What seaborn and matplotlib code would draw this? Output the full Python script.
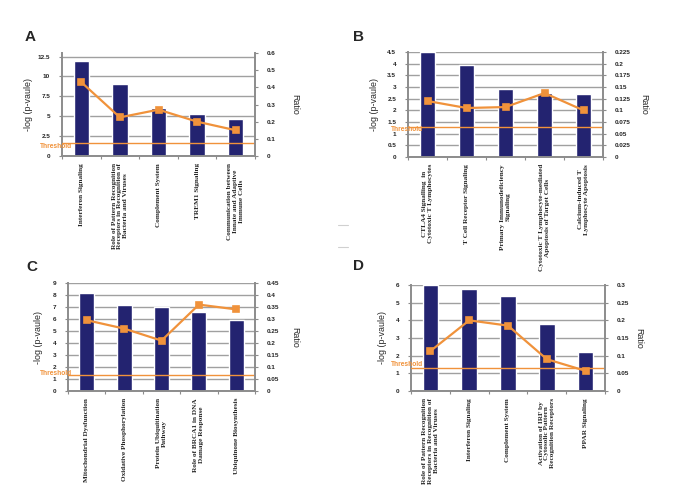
import matplotlib
matplotlib.use("Agg")
import matplotlib.pyplot as plt
import matplotlib.transforms as mtrans
from matplotlib.lines import Line2D
from matplotlib.ticker import FixedLocator
import seaborn as sns
import numpy as np

sns.set_theme(style="white")
plt.rcParams['font.family'] = ['Liberation Sans', 'DejaVu Sans']

# ---------------- data ----------------
cats_a = ["Interferon Signaling",
          "Role of Pattern Recognition\nReceptors in Recognition of\nBacteria and Viruses",
          "Complement System",
          "TREM1 Signaling",
          "Communication between\nInnate and Adaptive\nImmune Cells"]
logp_a = [12.0, 9.0, 6.0, 5.3, 4.6]
ratio_a = [0.43, 0.225, 0.27, 0.20, 0.15]
thr_a = 1.6

cats_b = ["CTLA4 Signalling  in\nCytotoxic T Lymphocytes",
          "T Cell Receptor Signaling",
          "Primary Immunodeficiency\nSignaling",
          "Cytotoxic T Lymphocyte-mediated\nApoptosis of Target Cells",
          "Calcium-induced T\nLymphocyte Apoptosis"]
logp_b = [4.5, 3.95, 2.9, 2.75, 2.7]
ratio_b = [0.12, 0.105, 0.107, 0.137, 0.10]
thr_b = 1.3

cats_c = ["Mitochondrial Dysfunction",
          "Oxidative Phosphorylation",
          "Protein Ubiquitination\nPathway",
          "Role of BRCA1 in DNA\nDamage Response",
          "Ubiquinone Biosynthesis"]
logp_c = [8.2, 7.15, 7.0, 6.6, 5.9]
ratio_c = [0.295, 0.26, 0.21, 0.36, 0.34]
thr_c = 1.3

cats_d = ["Role of Pattern Recognition\nReceptors in Recognition of\nBacteria and Viruses",
          "Interferon Signaling",
          "Complement System",
          "Activation of IRF by\nCytosolic Pattern\nRecognition Receptors",
          "PPAR Signaling"]
logp_d = [6.0, 5.75, 5.4, 3.8, 2.2]
ratio_d = [0.113, 0.20, 0.185, 0.09, 0.057]
thr_d = 1.3

left_ticks_a = [0, 2.5, 5, 7.5, 10, 12.5]
right_ticks_a = [0, 0.1, 0.2, 0.3, 0.4, 0.5, 0.6]
left_ticks_b = [0, 0.5, 1, 1.5, 2, 2.5, 3, 3.5, 4, 4.5]
right_ticks_b = [0, 0.025, 0.05, 0.075, 0.1, 0.125, 0.15, 0.175, 0.2, 0.225]
left_ticks_c = [0, 1, 2, 3, 4, 5, 6, 7, 8, 9]
right_ticks_c = [0, 0.05, 0.1, 0.15, 0.2, 0.25, 0.3, 0.35, 0.4, 0.45]
left_ticks_d = [0, 1, 2, 3, 4, 5, 6]
right_ticks_d = [0, 0.05, 0.1, 0.15, 0.2, 0.25, 0.3]

NAVY = "#232370"
ORANGE = "#f0923b"
GRID = "#a0a0a0"
SPINE = "#8c8c8c"

W, H = 685, 496
fig = plt.figure(figsize=(W / 100, H / 100), dpi=100)
fig.patch.set_facecolor("white")


def px_rect(l, r, t, b):
    return [l / W, 1 - b / H, (r - l) / W, (b - t) / H]


def fmt(v):
    return "%g" % v


def panel(rect, letter, letter_xy, cats, logp, ratio, thr, lt, rt, lmax, rmax,
          thr_off, ylab_off, rlab_off):
    ax = fig.add_axes(rect)
    wpx = rect[2] * W
    sns.barplot(x=cats, y=logp, color=NAVY, width=0.4, saturation=1, ax=ax,
                zorder=2)
    ax.set_xlim(-0.5, len(cats) - 0.5)
    ax.set_ylim(0, lmax)
    ax.set_yticks(lt)
    ax.set_yticklabels([fmt(v) for v in lt], fontsize=4.6, fontweight="bold")
    ax.yaxis.grid(True, color=GRID, lw=1.0, zorder=0)
    ax.xaxis.grid(False)
    ax.set_axisbelow(True)
    ax.axhline(thr, color=ORANGE, lw=1.0, zorder=5)

    ax2 = ax.twinx()
    sns.pointplot(x=cats, y=ratio, ax=ax2, color=ORANGE, markers="s",
                  markersize=4.5, linewidth=1.6, zorder=6)
    ax2.set_ylim(0, rmax)
    ax2.set_yticks(rt)
    ax2.set_yticklabels([fmt(v) for v in rt], fontsize=4.6, fontweight="bold")
    ax2.set_xlabel("")
    ax2.set_xlim(-0.5, len(cats) - 0.5)

    ax.set_xticks(range(len(cats)))
    ax.set_xticklabels(cats, rotation=90, ha="center", va="top",
                       multialignment="center", fontsize=5.2,
                       fontweight="bold", family=["Liberation Serif"])
    ax.tick_params(axis="x", which="major", length=0, pad=5)
    ax.xaxis.set_minor_locator(FixedLocator(np.arange(-0.5, len(cats), 1.0)))
    ax.tick_params(axis="x", which="minor", length=2.5, width=0.8,
                   color=SPINE, bottom=True)
    ax.tick_params(axis="y", length=2.5, width=0.8, color=SPINE, pad=6,
                   left=True)
    ax2.tick_params(axis="y", length=2.5, width=0.8, color=SPINE, pad=6,
                    right=True)
    ax2.tick_params(axis="x", bottom=False, top=False, labelbottom=False,
                    labeltop=False)

    for a in (ax, ax2):
        a.spines["top"].set_visible(False)
        for s in ("left", "right", "bottom"):
            a.spines[s].set_color(SPINE)
            a.spines[s].set_linewidth(1.4)
        a.set_facecolor("none")
    ax.spines["right"].set_visible(False)
    ax2.spines["left"].set_visible(False)
    ax2.spines["bottom"].set_visible(False)

    ax.set_ylabel("-log (p-vaule)", fontsize=6.4)
    ax.yaxis.set_label_coords(-ylab_off / wpx, 0.5)
    ax2.set_ylabel("Ratio", fontsize=6.4, rotation=270, va="center")
    ax2.yaxis.set_label_coords(1 + rlab_off / wpx, 0.5)

    trans = mtrans.blended_transform_factory(ax.transAxes, ax.transData)
    ax.annotate("Threshold", xy=(0, thr), xycoords=trans,
                xytext=(thr_off[0] * 0.72, thr_off[1] * 0.72),
                textcoords="offset points", ha="center", va="center",
                fontsize=4.8, fontweight="bold", color=ORANGE, zorder=7,
                annotation_clip=False)

    fig.text(letter_xy[0] / W, 1 - letter_xy[1] / H, letter, fontsize=11,
             fontweight="bold", ha="center", va="center")
    return ax, ax2


panel(px_rect(62, 255, 53, 156), "A", (30, 37), cats_a, logp_a, ratio_a, thr_a,
      left_ticks_a, right_ticks_a, 12.95, 0.6, (-6, -3), 29, 40)
panel(px_rect(408, 603, 52, 157), "B", (358, 37), cats_b, logp_b, ratio_b, thr_b,
      left_ticks_b, right_ticks_b, 4.5, 0.225, (-1, -3), 29, 41)
panel(px_rect(68, 255, 283, 391), "C", (32, 267), cats_c, logp_c, ratio_c, thr_c,
      left_ticks_c, right_ticks_c, 9, 0.45, (-12, 2), 25, 40)
panel(px_rect(411, 605, 285, 391), "D", (358, 266), cats_d, logp_d, ratio_d, thr_d,
      left_ticks_d, right_ticks_d, 6, 0.3, (-4, 4), 24, 34)

for yy in (225, 247):
    fig.add_artist(Line2D([338 / W, 348 / W], [1 - yy / H, 1 - yy / H],
                          color="#d0d0d0", lw=0.8, transform=fig.transFigure))

fig.savefig("out.png", dpi=100, facecolor="white")
